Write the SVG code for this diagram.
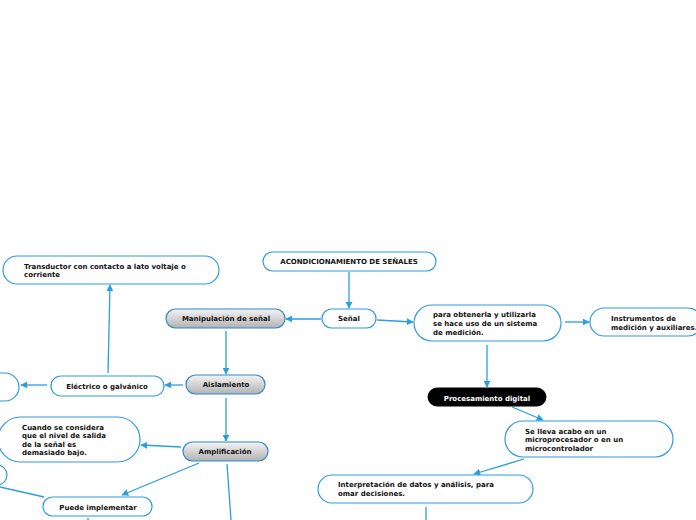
<svg xmlns="http://www.w3.org/2000/svg" width="696" height="520" viewBox="0 0 696 520">
<style>
.n{fill:#fff;stroke:#2f9be0;stroke-width:1.2}
.g{fill:url(#gr);stroke:#2f89c8;stroke-width:1.2}
.b{fill:#000;stroke:#000}
.t{font-family:"DejaVu Sans",Verdana,sans-serif;font-weight:bold;font-size:7px;fill:#111}
.w{fill:#fff}
.c{fill:none;stroke:#2b9ee0;stroke-width:1.3;marker-end:url(#ah)}
.c2{fill:none;stroke:#2b9ee0;stroke-width:1.3}
</style>
<defs>
<linearGradient id="gr" x1="0" y1="0" x2="0" y2="1">
<stop offset="0" stop-color="#f4f4f4"/>
<stop offset="1" stop-color="#b2b2b2"/>
</linearGradient>
<marker id="ah" viewBox="0 0 10 10" refX="9" refY="5" markerWidth="7" markerHeight="7" markerUnits="userSpaceOnUse" orient="auto">
<path d="M0,0 L10,5 L0,10 z" fill="#2b9ee0"/>
</marker>
</defs>
<rect width="696" height="520" fill="#fff"/>
<g id="connectors">
<path class="c" d="M349,272 L349,308"/>
<path class="c" d="M321,319 L286,319"/>
<path class="c" d="M377,320 L413,322"/>
<path class="c" d="M565,322 L589,322"/>
<path class="c" d="M487,345 L487,387"/>
<path class="c" d="M512,407 L543,420"/>
<path class="c" d="M524,459 L474,474"/>
<path class="c2" d="M426,507 L426,520"/>
<path class="c" d="M226,331 L226,374"/>
<path class="c" d="M183,385 L165,385"/>
<path class="c" d="M47,385 L21,385"/>
<path class="c" d="M108,373 L110,285"/>
<path class="c" d="M226,398 L226,441"/>
<path class="c" d="M181,447 L141,445"/>
<path class="c" d="M199,463 L122,495"/>
<path class="c2" d="M227,464 L231,520"/>
<path class="c2" d="M0,487 L44,497"/>
<path class="c2" d="M88,518 L88,520"/>
</g>
<g id="acond"><rect class="n" x="263" y="252" width="173" height="19" rx="9.5"/><text class="t" x="349" y="264" text-anchor="middle">ACONDICIONAMIENTO DE SEÑALES</text></g>
<g id="senal"><rect class="n" x="322" y="309" width="54" height="19" rx="9.5"/><text class="t" x="349" y="321" text-anchor="middle">Señal</text></g>
<g id="manip"><rect class="g" x="166" y="309" width="119" height="19" rx="9.5"/><text class="t" x="226" y="321" text-anchor="middle">Manipulación de señal</text></g>
<g id="para"><rect class="n" x="414" y="305" width="147" height="36" rx="18"/><text class="t" x="433"><tspan x="433" y="317">para obtenerla y utilizarla</tspan><tspan x="433" y="326">se hace uso de un sistema</tspan><tspan x="433" y="335">de medición.</tspan></text></g>
<g id="instr"><rect class="n" x="590" y="308" width="112" height="28" rx="14"/><text class="t"><tspan x="611" y="320.5">Instrumentos de</tspan><tspan x="611" y="329.5">medición y auxiliares.</tspan></text></g>
<g id="proc"><rect class="b" x="428" y="388" width="118" height="18" rx="9"/><text class="t w" x="487" y="400.5" text-anchor="middle">Procesamiento digital</text></g>
<g id="lleva"><rect class="n" x="505" y="421" width="168" height="36" rx="18"/><text class="t"><tspan x="525" y="433.5">Se lleva acabo en un</tspan><tspan x="525" y="442">microprocesador o en un</tspan><tspan x="525" y="450.5">microcontrolador</tspan></text></g>
<g id="interp"><rect class="n" x="318" y="475" width="215" height="28" rx="14"/><text class="t"><tspan x="338" y="486.5">Interpretación de datos y análisis, para</tspan><tspan x="338" y="495.5">omar decisiones.</tspan></text></g>
<g id="transd"><rect class="n" x="3" y="256" width="216" height="28" rx="14"/><text class="t"><tspan x="24" y="268.5">Transductor con contacto a lato voltaje o</tspan><tspan x="24" y="277">corriente</tspan></text></g>
<g id="electrico"><rect class="n" x="51" y="376" width="113" height="20" rx="10"/><text class="t" x="107" y="388.5" text-anchor="middle">Eléctrico o galvánico</text></g>
<g id="left1"><rect class="n" x="-40" y="373" width="59" height="28" rx="14"/></g>
<g id="aisl"><rect class="g" x="186" y="375" width="79" height="19" rx="9.5"/><text class="t" x="226" y="386.5" text-anchor="middle">Aislamiento</text></g>
<g id="ampl"><rect class="g" x="183" y="442" width="85" height="19" rx="9.5"/><text class="t" x="225" y="453.5" text-anchor="middle">Amplificación</text></g>
<g id="cuando"><rect class="n" x="-2" y="417" width="142" height="45" rx="22.5"/><text class="t"><tspan x="22" y="429.5">Cuando se considera</tspan><tspan x="22" y="438">que el nivel de salida</tspan><tspan x="22" y="446.5">de la señal es</tspan><tspan x="22" y="455">demasiado bajo.</tspan></text></g>
<g id="left2"><rect class="n" x="-40" y="465" width="47" height="20" rx="10"/></g>
<g id="puede"><rect class="n" x="43" y="497" width="109" height="19" rx="9.5"/><text class="t" x="98" y="509.5" text-anchor="middle">Puede implementar</text></g>
</svg>
